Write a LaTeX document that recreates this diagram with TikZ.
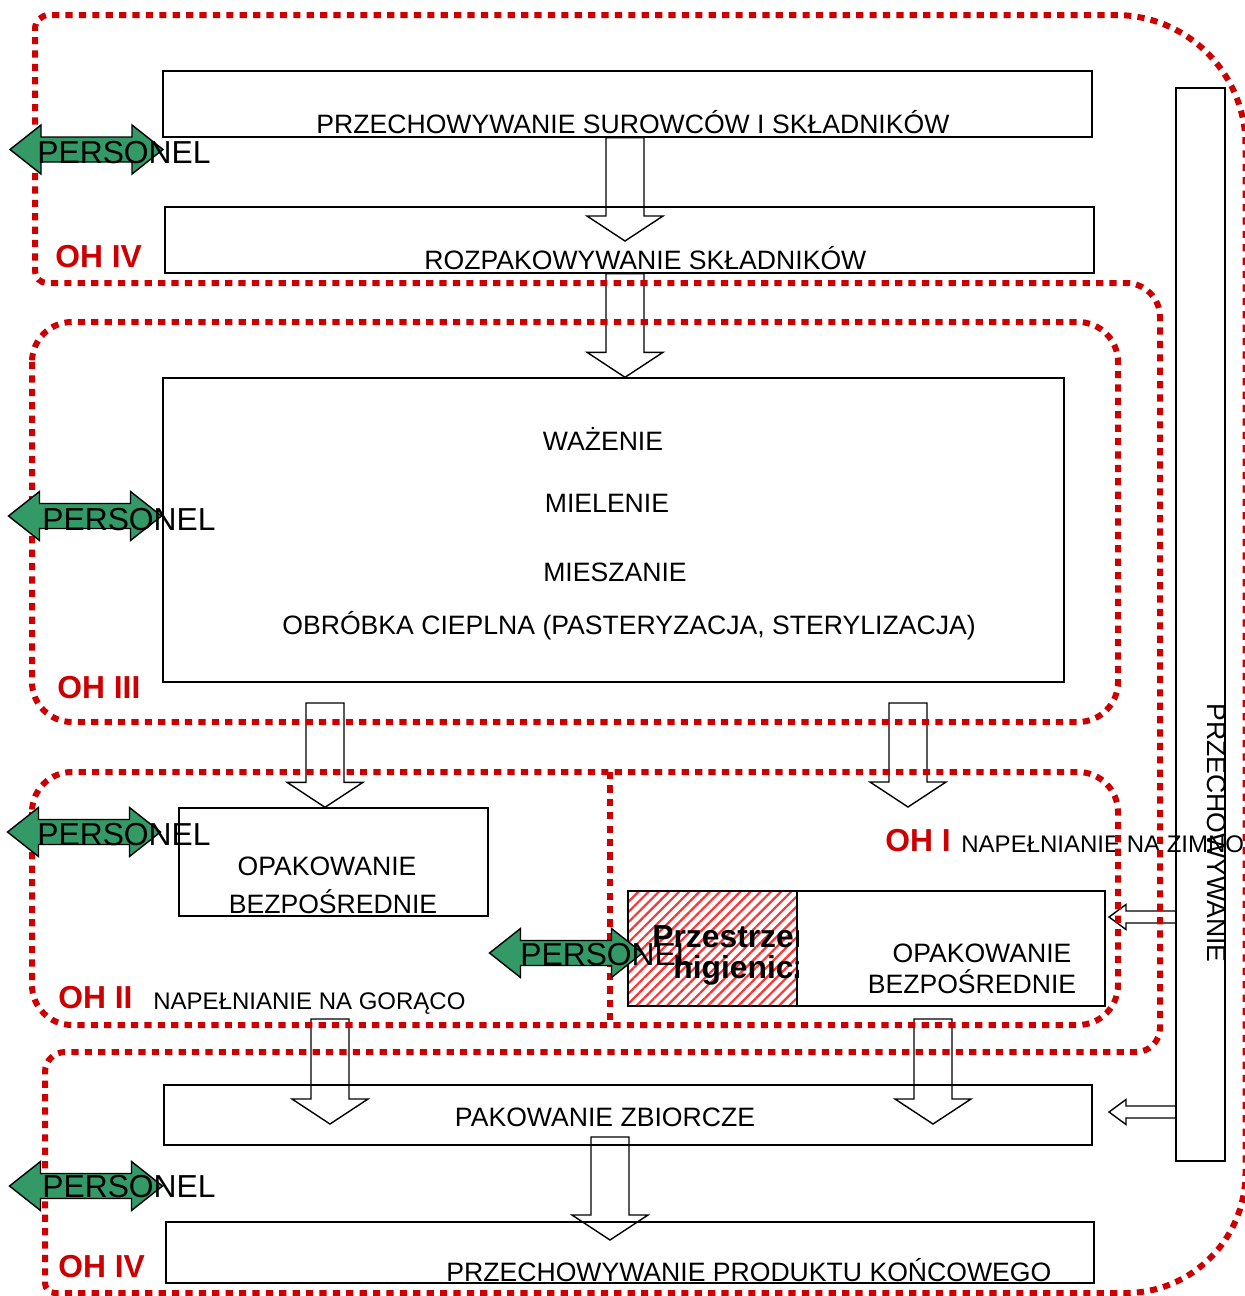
\documentclass[tikz,border=0pt]{standalone}
\usepackage{fontspec}
\setmainfont{Liberation Sans}
\usepackage{tikz}
\usetikzlibrary{fit, calc, patterns.meta}
\definecolor{ohred}{HTML}{CC0000}
\definecolor{staff}{HTML}{339966}
\newcommand{\stepfont}{\fontsize{13.3}{16}\selectfont}
\newcommand{\fillfont}{\fontsize{12}{14}\selectfont}
\newcommand{\bigfont}{\fontsize{15.9}{19}\selectfont}
% hollow block arrow, downwards from #1 to the tip at #2
\newcommand{\blockdown}[2]{%
  \draw[hollow] let \p1=#1, \p2=#2 in
    (\x1-9.5pt,\y1) -- (\x1+9.5pt,\y1) -- (\x1+9.5pt,\y2+12.5pt)
    -- (\x1+19pt,\y2+12.5pt) -- (\x1,\y2) -- (\x1-19pt,\y2+12.5pt)
    -- (\x1-9.5pt,\y2+12.5pt) -- cycle;}
% hollow block arrow, leftwards from #1 to the tip at #2
\newcommand{\blockleft}[2]{%
  \draw[hollow] let \p1=#1, \p2=#2 in
    (\x1,\y1+3pt) -- (\x1,\y1-3pt) -- (\x2+8.5pt,\y1-3pt)
    -- (\x2+8.5pt,\y1-6.25pt) -- (\x2,\y1) -- (\x2+8.5pt,\y1+6.25pt)
    -- (\x2+8.5pt,\y1+3pt) -- cycle;}
% green two-way arrow for the staff
\newcommand{\personel}[1]{%
  \draw[staffarrow, shift={#1}] (-76.5,0) -- (-45.5,24.5) -- (-45.5,12.5)
    -- (45.5,12.5) -- (45.5,24.5) -- (76.5,0) -- (45.5,-24.5)
    -- (45.5,-12.5) -- (-45.5,-12.5) -- (-45.5,-24.5) -- cycle;}

\begin{document}
\begin{tikzpicture}[
    x=0.5pt, y=-0.5pt,
    box/.style={draw=black, line width=0.7pt, inner sep=0pt},
    hollow/.style={draw=black, line width=0.7pt, line join=miter},
    txt/.style={inner sep=0pt, font=\stepfont},
    ohline/.style={draw=ohred, line width=3pt, dash pattern=on 3.6pt off 3.1pt},
    ohlabel/.style={inner sep=0pt, anchor=base west, text=ohred,
                    font=\bigfont\bfseries},
    stafftext/.style={inner sep=0pt, anchor=base west, font=\bigfont},
    staffarrow/.style={draw=black, fill=staff, line width=0.7pt}
]
\useasboundingbox (0,0) rectangle (1245,1296);

% boxes
\node[box, fit={(628,891) (797,1006)},
      pattern={Lines[angle=45, distance=3.6pt, line width=1.1pt]},
      pattern color=red!80] (higiena) {};
\node[box, fit={(163,71) (1092,137)}] (surowce) {};
\node[box, fit={(165,207) (1094,273)}] (rozpak) {};
\node[box, fit={(163,378) (1064,682)}] (proces) {};
\node[box, fit={(179,808) (488,916)}] (opakgor) {};
\node[box, fit={(628,891) (1105,1006)}] (opakzim) {};
\node[box, fit={(164,1085) (1092,1145)}] (zbiorcze) {};
\node[box, fit={(166,1222) (1094,1283)}] (koniec) {};
\node[box, fit={(1176,88) (1225,1161)}] (regal) {};

\blockdown{(surowce.south -| 625,0)}{(625,241)}
\blockdown{(rozpak.south -| 625,0)}{(proces.north)}
\blockdown{(325,703)}{(opakgor.north)}
\blockdown{(908,703)}{(908,807)}
\blockdown{(330,1019)}{(330,1124)}
\blockdown{(933,1019)}{(933,1124)}
\blockdown{(610,1137)}{(610,1240)}
\blockleft{(1176,917)}{(1109,917)}
\blockleft{(1176,1112)}{(1109,1112)}

% texts
\node[txt, anchor=base west] (surowce-t) at (316,133)
     {PRZECHOWYWANIE SUROWCÓW I SKŁADNIKÓW};
\node[txt, anchor=base west] (rozpak-t) at (424,269)
     {ROZPAKOWYWANIE SKŁADNIKÓW};
\node[txt, anchor=base] (wazenie) at (603,450) {WAŻENIE};
\node[txt, anchor=base] (mielenie) at (607,512) {MIELENIE};
\node[txt, anchor=base] (mieszanie) at (615,581) {MIESZANIE};
\node[txt, anchor=base west] (obrobka) at (282,634)
     {OBRÓBKA CIEPLNA (PASTERYZACJA, STERYLIZACJA)};
\node[txt, anchor=base] (opakgor-t1) at (327,875) {OPAKOWANIE};
\node[txt, anchor=base] (opakgor-t2) at (333,913) {BEZPOŚREDNIE};
\node[txt, anchor=base] (opakzim-t1) at (982,962) {OPAKOWANIE};
\node[txt, anchor=base] (opakzim-t2) at (972,993) {BEZPOŚREDNIE};
\node[txt, anchor=base] (zbiorcze-t) at (605,1126) {PAKOWANIE ZBIORCZE};
\node[txt, anchor=base west] (koniec-t) at (446,1281)
     {PRZECHOWYWANIE PRODUKTU KOŃCOWEGO};
\node[txt, anchor=base west, rotate=-90] (regal-t) at (1207,703)
     {PRZECHOWYWANIE};
\node[txt, anchor=base west, font=\fillfont] (goraco) at (153,1009)
     {NAPEŁNIANIE NA GORĄCO};
\node[txt, anchor=base west, font=\fillfont] (zimno) at (961,852)
     {NAPEŁNIANIE NA ZIMNO};
\begin{scope}
  \clip (higiena.south west) rectangle (higiena.north east);
  \node[stafftext] (higiena-t1) at (652,947) {\bfseries Przestrzeń};
  \node[stafftext] (higiena-t2) at (673,978) {\bfseries higieniczna};
\end{scope}

% hygiene areas
\draw[ohline, rounded corners=20pt] (32,322) rectangle (1118,722);
\draw[ohline, rounded corners=20pt] (32,772) rectangle (1118,1025);
\draw[ohline] (610,772) -- (610,1025);
\draw[ohline] (35,150) [rounded corners=7pt] -- (35,15)
    [rounded corners=65pt] -- (1245.5,15)
    [rounded corners=60pt] -- (1245.5,1293)
    [rounded corners=5pt] -- (45,1293)
    [rounded corners=10pt] -- (45,1052)
    [rounded corners=12pt] -- (1160,1052)
    [rounded corners=17pt] -- (1160,283)
    [rounded corners=6pt] -- (35,283) -- cycle;

\node[ohlabel] (oh4a) at (55,267) {OH IV};
\node[ohlabel] (oh3) at (57,698) {OH III};
\node[ohlabel] (oh2) at (58,1008) {OH II};
\node[ohlabel] (oh1) at (885,851) {OH I};
\node[ohlabel] (oh4b) at (58,1277) {OH IV};

% staff
\personel{(86.5,149.5)}
\personel{(85,516)}
\personel{(84,832)}
\personel{(86,1186)}
\personel{(566,953)}
\node[stafftext] (staff1) at (37,163) {PERSONEL};
\node[stafftext] (staff2) at (42,530) {PERSONEL};
\node[stafftext] (staff3) at (37,845) {PERSONEL};
\node[stafftext] (staff4) at (42,1197) {PERSONEL};
\node[stafftext] (staff5) at (520,965) {PERSONEL};

\end{tikzpicture}
\end{document}
